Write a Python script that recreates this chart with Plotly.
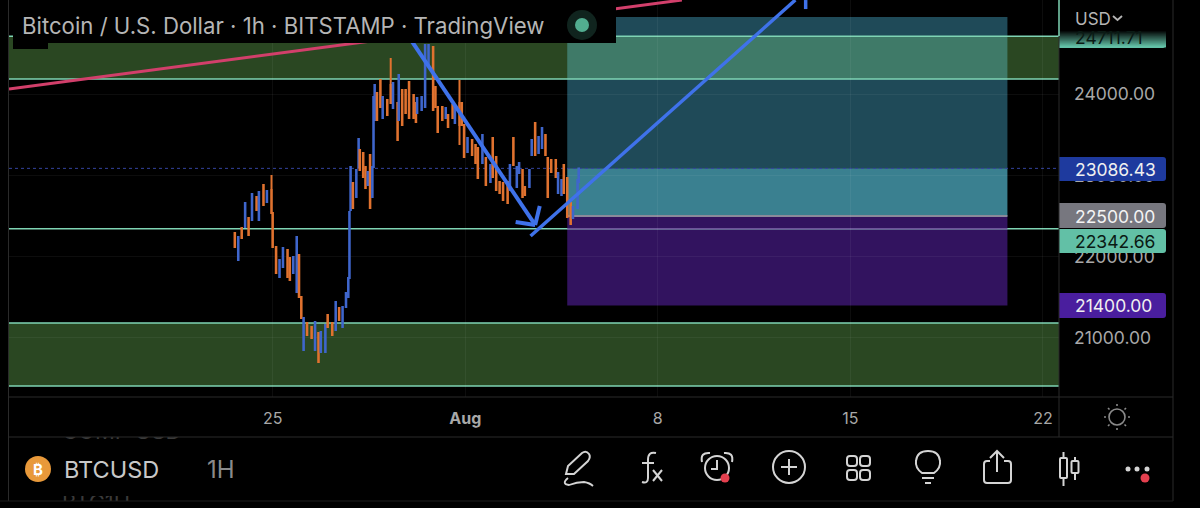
import pandas as pd
import plotly.graph_objects as go

# hours counted from 1 Aug 00:00, prices
candle_hours = [-201,-198,-195,-192,-189,-186,-182,-180,-176,-173,
                -169,-168,-165,-162,-159,-155,-153,-150,-147,-145,
                -143,-141,-138,-134,-131,-128,-126,-122,-120,-116,
                -113,-110,-107,-104,-102,-101,-100,-98,-95,-93,
                -92,-89,-87,-85,-83,-81,-80,-79,-77,-74,
                -72,-68,-65,-63,-59,-58,-55,-52,-49,-45,
                -43,-42,-38,-35,-32,-28,-26,-24,-20,-17,
                -15,-11,-9,-5,-3,-1,2,6,9,11,
                15,18,22,24,27,30,33,37,39,42,
                45,47,50,52,56,58,61,64,67,70,
                72,75,79,81,84,86,89,92,94,98,
                99]
opens = [22291,21959,22353,22365,22476,22451,22734,22451,22882,22672,
         22820,22537,22119,21750,21873,22082,21984,21799,21566,22021,
         21504,20852,21184,21135,20852,21061,20827,20827,21283,21184,
         21098,21369,21135,21381,21504,21738,22574,22906,22734,23103,
         23312,23275,23103,22882,23251,22734,23103,23681,24013,24173,
         23706,23927,24112,23829,23890,23681,24050,24050,24148,23989,
         23890,23767,23804,23841,24358,24579,24087,23841,23841,23706,
         23743,23866,23644,23890,23890,23620,23288,23435,23374,23337,
         23152,23214,22918,23460,23226,22918,22906,22918,22820,23460,
         22857,23029,23066,22857,22857,23251,23644,23275,23337,23497,
         23214,23189,23189,22783,22759,23128,22968,22660,22476,22598,
         22918]
highs = [22291,22242,22353,22660,22476,22771,22734,22795,22882,22808,
         23005,22537,22119,21959,22107,22082,21984,21996,22242,22021,
         21504,21246,21184,21135,21196,21061,21074,21160,21283,21184,
         21442,21369,21381,21553,21738,22549,23103,22906,23066,23447,
         23312,23275,23103,23041,23251,23103,23964,24112,24013,24173,
         23964,23927,24444,24136,23890,24235,24050,24050,24148,23989,
         23890,23952,23964,24604,24604,24579,24087,23841,23841,23829,
         23743,23866,23841,24173,23890,23620,23460,23435,23374,23337,
         23497,23214,23128,23460,23226,22918,22906,22918,23128,23460,
         23103,23152,23066,22857,23066,23435,23644,23472,23583,23497,
         23214,23189,23189,23029,22943,23128,22968,22660,22611,22943,
         23086]
lows = [22119,21959,22230,22365,22267,22451,22574,22451,22635,22672,
        22537,22119,21799,21750,21873,21750,21713,21799,21566,21504,
        21246,20852,21037,21000,20852,20704,20827,20827,21135,21037,
        21098,21221,21135,21381,21504,21738,22574,22598,22734,23103,
        23066,22980,22845,22882,22598,22734,23103,23681,23681,23841,
        23706,23743,23890,23829,23435,23681,23620,23767,23706,23706,
        23657,23767,23804,23841,24358,23804,23841,23534,23681,23706,
        23595,23706,23644,23374,23620,23226,23288,23251,23152,22968,
        23152,22882,22918,22980,22820,22783,22697,22660,22820,23128,
        22857,23029,22734,22759,22857,23251,23251,23275,23337,23251,
        22734,23041,22980,22783,22759,22783,22488,22402,22476,22598,
        22918]
closes = [22119,22242,22230,22660,22267,22771,22574,22795,22635,22808,
          22537,22119,21799,21959,22107,21750,21713,21996,22242,21504,
          21246,21246,21037,21000,21196,20704,21074,21160,21135,21037,
          21442,21221,21381,21553,21738,22549,23103,22598,23066,23447,
          23066,22980,22845,23041,22598,23103,23964,24112,23681,23841,
          23964,23743,23890,24136,23435,24235,23620,23767,23706,23706,
          23657,23952,23964,24604,24604,23804,23841,23534,23681,23829,
          23595,23706,23841,23620,23620,23226,23460,23251,23152,22968,
          23497,22882,23128,22980,22820,22783,22697,22660,23128,23128,
          23103,23152,22734,22759,23066,23435,23251,23472,23583,23251,
          22734,23041,22980,23029,22943,22783,22488,22402,22611,22943,
          23086]

price_ticks = [21000, 22000, 23000, 24000]
date_ticks = ['2022-07-25', '2022-08-01', '2022-08-08', '2022-08-15', '2022-08-22']
date_labels = ['25', '<b>Aug</b>', '8', '15', '22']

# drawn levels
upper_zone = [24185, 24711.71]
lower_zone = [20410, 21185]
support = 22342.66
last_price = 23086.43
entry = 22500
stop = 21400
target = 24948
position_hours = [89, 473]
view_hours = [-398, 518]
view_prices = [20274, 25157.4]

red_line_hours = [-398, 189]
red_line_prices = [24063, 25157]
down_hours = [-49, 61]
down_prices = [24702, 22390]
head_hours = [44, 61, 65]
head_prices = [22427, 22390, 22623]
up_hours = [57, 288]
up_prices = [22254, 25157]
tip_hours = [297, 297]
tip_prices = [25157, 25046]

BLACK = '#000000'
MINT = '#7fd4b4'
GREEN = '#2a4722'
BLUE = '#3f72ea'
FRAME = '#2a2a2a'
GRID = 'rgba(255,255,255,0.05)'
FONT = 'Inter'


def at(hour):
    return pd.Timestamp('2022-08-01') + pd.Timedelta(hours=hour)


shapes = []


def price_rect(h0, h1, p0, p1, color, layer='below'):
    shapes.append(dict(type='rect', xref='x', yref='y', x0=at(h0), x1=at(h1), y0=p0, y1=p1,
                       fillcolor=color, line_width=0, layer=layer))


def price_line(hours, prices, color, width, dash='solid', layer='above'):
    for i in range(len(hours) - 1):
        shapes.append(dict(type='line', xref='x', yref='y', x0=at(hours[i]), x1=at(hours[i + 1]),
                           y0=prices[i], y1=prices[i + 1], layer=layer,
                           line=dict(color=color, width=width, dash=dash)))


# everything below is page furniture, in page pixels on the overlay axes
def px_rect(x0, y0, x1, y1, color):
    shapes.append(dict(type='rect', xref='x2', yref='y2', x0=x0, x1=x1, y0=y0, y1=y1,
                       fillcolor=color, line_width=0, layer='above'))


def px_line(x0, y0, x1, y1, color=FRAME, width=1):
    shapes.append(dict(type='line', xref='x2', yref='y2', x0=x0, x1=x1, y0=y0, y1=y1,
                       line=dict(color=color, width=width), layer='above'))


def px_path(path, color='#d4d4d4', width=2, fill=None):
    shapes.append(dict(type='path', xref='x2', yref='y2', path=path, layer='above',
                       line=dict(color=color, width=width), fillcolor=fill or 'rgba(0,0,0,0)'))


def px_circle(cx, cy, r, color='#d4d4d4', width=2, fill=None):
    shapes.append(dict(type='circle', xref='x2', yref='y2', x0=cx - r, x1=cx + r, y0=cy - r, y1=cy + r,
                       layer='above', line=dict(color=color, width=width),
                       fillcolor=fill or 'rgba(0,0,0,0)'))


def round_rect(x0, y0, x1, y1, r):
    return (f'M {x0 + r} {y0} L {x1 - r} {y0} Q {x1} {y0} {x1} {y0 + r} L {x1} {y1 - r} '
            f'Q {x1} {y1} {x1 - r} {y1} L {x0 + r} {y1} Q {x0} {y1} {x0} {y1 - r} '
            f'L {x0} {y0 + r} Q {x0} {y0} {x0 + r} {y0} Z')


def price_tag(y0, y1, color):
    # square on the axis side, rounded on the outer side
    px_path(f'M 1059 {y0} L 1163 {y0} Q 1166 {y0} 1166 {y0 + 3} L 1166 {y1 - 3} '
            f'Q 1166 {y1} 1163 {y1} L 1059 {y1} Z', color=color, width=0, fill=color)


# green zones and the position tool, under the candles
price_rect(view_hours[0], view_hours[1], upper_zone[0], upper_zone[1], GREEN)
price_rect(view_hours[0], view_hours[1], lower_zone[0], lower_zone[1], GREEN)
price_rect(position_hours[0], position_hours[1], upper_zone[1], target, '#1f4a58')
price_rect(position_hours[0], position_hours[1], upper_zone[0], upper_zone[1], '#3f7a68')
price_rect(position_hours[0], position_hours[1], last_price, upper_zone[0], '#1f4a58')
price_rect(position_hours[0], position_hours[1], entry, last_price, '#3a8090')
price_rect(position_hours[0], position_hours[1], stop, entry, '#32135f')

for level in [upper_zone[0], upper_zone[1], lower_zone[0], lower_zone[1], support]:
    price_line(view_hours, [level, level], MINT, 1.5, layer='below')
price_line(position_hours, [support, support], '#6d559a', 1.5, layer='below')
price_line(position_hours, [entry, entry], '#8a8a9a', 2, layer='below')
price_line(view_hours, [last_price, last_price], '#33439e', 1, dash='dot', layer='below')

# drawings on top of the candles
price_line(red_line_hours, red_line_prices, '#d23f6b', 3)
price_line(down_hours, down_prices, BLUE, 4)
price_line(head_hours, head_prices, BLUE, 4)
price_line(up_hours, up_prices, BLUE, 3.5)
price_line(tip_hours, tip_prices, BLUE, 3.5)

# title box
px_rect(13, 0, 616, 43, BLACK)
px_rect(13, 43, 48, 49, BLACK)
px_circle(582, 25, 15, color='#10241e', width=0, fill='#10241e')
px_circle(582, 25, 7, color='#52ad90', width=0, fill='#52ad90')

# masks that leave only slivers of the rows scrolled behind the toolbar
px_rect(58, 422, 195, 437, BLACK)
px_rect(58, 442, 195, 496, BLACK)
px_rect(58, 501, 195, 508, BLACK)

# right axis tags
for i in range(16):
    alpha = (i + 1) / 16
    px_rect(1059, 31 + i, 1166, 32 + i, f'rgba(98,192,166,{alpha:.2f})')
price_tag(46, 48, '#62c0a6')
price_tag(157, 181, '#1e3a9e')
price_tag(203, 228, '#77777f')
price_tag(229, 253, '#62c0a6')
price_tag(293, 318, '#4a1e9e')

# frame
px_line(8.5, 0, 8.5, 501)
px_line(1059, 36, 1059, 437)
px_line(1059, 0, 1059, 36, color=MINT, width=1.5)
px_line(1173, 0, 1173, 501)
px_line(9, 397, 1173, 397)
px_line(9, 437, 1173, 437)
px_line(0, 501, 1173, 501, color='#1c1c1c')

# USD chevron and sun
px_path('M 1113 16 L 1117.5 20 L 1122 16', color='#b5b5b5', width=1.8)
px_circle(1117, 417, 8, color='#8a8a8a', width=1.6)
px_line(1117, 404, 1117, 406, color='#8a8a8a', width=1.6)
px_line(1117, 428, 1117, 430, color='#8a8a8a', width=1.6)
px_line(1104, 417, 1106, 417, color='#8a8a8a', width=1.6)
px_line(1128, 417, 1130, 417, color='#8a8a8a', width=1.6)
px_line(1108, 408, 1109.5, 409.5, color='#8a8a8a', width=1.6)
px_line(1124.5, 424.5, 1126, 426, color='#8a8a8a', width=1.6)
px_line(1126, 408, 1124.5, 409.5, color='#8a8a8a', width=1.6)
px_line(1109.5, 424.5, 1108, 426, color='#8a8a8a', width=1.6)

# toolbar
px_circle(38, 469, 13, color='#e8993a', width=0, fill='#e8993a')
px_path('M 566 474 L 568 466 L 582 453 Q 586 450 589 454 Q 591 457 588 461 L 574 474 Z')
px_path('M 568 478 Q 561 484 569 485 Q 577 482 584 482 Q 590 483 593 486', width=1.8)
px_path('M 656 453 Q 648 451 648 460 L 648 478 Q 648 484 642 482')
px_path('M 642 463 L 654 463')
px_path('M 653 470 L 662 481 M 662 470 L 653 481')
px_circle(717, 468, 12)
px_path('M 717 460 L 717 469 L 711 469')
px_path('M 702 462 Q 700 452 710 453')
px_path('M 724 453 Q 734 452 732 462')
px_circle(725, 478, 4.5, color='#e5404f', width=0, fill='#e5404f')
px_circle(789, 467, 16)
px_path('M 781 467 L 797 467 M 789 459 L 789 475')
px_path(round_rect(847, 456, 857, 466, 3))
px_path(round_rect(860, 456, 870, 466, 3))
px_path(round_rect(847, 470, 857, 480, 3))
px_path(round_rect(860, 470, 870, 480, 3))
px_path('M 922 473 Q 915 468 916 461 Q 917 451 928 451 Q 939 451 940 461 Q 941 468 934 473 Z')
px_path('M 922 478 L 934 478 M 925 483 L 931 483')
px_path('M 990 461 L 987 461 Q 984 461 984 464 L 984 480 Q 984 483 987 483 L 1008 483 '
        'Q 1011 483 1011 480 L 1011 464 Q 1011 461 1008 461 L 1004 461')
px_path('M 997 472 L 997 451 M 990 458 L 997 451 L 1004 458')
px_path('M 1063.5 452 L 1063.5 458 M 1063.5 478 L 1063.5 486')
px_path(round_rect(1060, 458, 1067, 478, 1))
px_path('M 1075 457 L 1075 461 M 1075 473 L 1075 480')
px_path(round_rect(1071.5, 461, 1078.5, 473, 1))
px_circle(1128, 469, 2.5, width=0, fill='#d4d4d4')
px_circle(1137, 469, 2.5, width=0, fill='#d4d4d4')
px_circle(1147, 469, 2.5, width=0, fill='#d4d4d4')
px_circle(1145, 478, 4.5, color='#e5404f', width=0, fill='#e5404f')


def label(x, y, text, color='#b5b5b5', size=17.5, anchor='left'):
    return dict(xref='x2', yref='y2', x=x, y=y, text=text, showarrow=False, xanchor=anchor,
                yanchor='middle', font=dict(family=FONT, size=size, color=color))


annotations = [
    label(20, 25, 'Bitcoin / U.S. Dollar · 1h · BITSTAMP · TradingView', size=22.2),
    label(1073, 19, 'USD', size=17),
    label(1073, 37, '24711.71', color='#0a1a14'),
    label(1073, 169, f'{last_price:.2f}', color='#f0f0f0'),
    label(1073, 216, f'{entry:.2f}', color='#f4f4f4'),
    label(1073, 241, f'{support:.2f}', color='#0a1a14'),
    label(1073, 305, f'{stop:.2f}', color='#f0f0f0'),
    label(38, 469, '<b>₿</b>', color='#ffffff', size=15, anchor='center'),
    label(62, 469, 'BTCUSD', color='#c8c8c8', size=23.5),
    label(205, 469, '1H', color='#8a8a8a', size=24),
]

fig = go.Figure()
fig.add_trace(go.Candlestick(
    x=[at(h) for h in candle_hours],
    open=opens, high=highs, low=lows, close=closes,
    increasing=dict(line=dict(color='#3f66cc', width=2), fillcolor='#3f66cc'),
    decreasing=dict(line=dict(color='#e0722f', width=2), fillcolor='#e0722f'),
    whiskerwidth=0, showlegend=False, hoverinfo='skip',
))
# rows scrolled behind the toolbar, masked down to slivers above
fig.add_trace(go.Scatter(
    x=[62, 62], y=[433.5, 504.5], xaxis='x2', yaxis='y2', mode='text',
    text=['COMP USD', 'BTC1H'], textposition='middle right',
    textfont=dict(family=FONT, size=22, color='#3a3a3a'),
    showlegend=False, hoverinfo='skip',
))

fig.update_layout(
    width=1200, height=508, autosize=False,
    margin=dict(l=0, r=0, t=0, b=0),
    paper_bgcolor=BLACK, plot_bgcolor='rgba(0,0,0,0)',
    showlegend=False, shapes=shapes, annotations=annotations,
    font=dict(family=FONT),
    xaxis=dict(
        domain=[9 / 1200, 1059 / 1200],
        type='date', range=[at(view_hours[0]), at(view_hours[1])], rangeslider_visible=False,
        tickmode='array', tickvals=date_ticks, ticktext=date_labels,
        tickfont=dict(family=FONT, size=16, color='#a8a8a8'), ticklabelstandoff=10,
        showgrid=True, gridcolor=GRID, zeroline=False, showline=False, ticks='',
    ),
    yaxis=dict(
        domain=[111 / 508, 1],
        side='right', range=view_prices, tickmode='array', tickvals=price_ticks,
        ticktext=[f'{p:.2f}' for p in price_ticks],
        tickfont=dict(family=FONT, size=17.5, color='#a8a8a8'), ticklabelstandoff=14,
        showgrid=True, gridcolor=GRID, zeroline=False, showline=False, ticks='',
    ),
    xaxis2=dict(domain=[0, 1], range=[0, 1200], anchor='y2', visible=False, fixedrange=True),
    yaxis2=dict(domain=[0, 1], range=[508, 0], anchor='x2', visible=False, fixedrange=True),
)

fig.write_html("out.html", config=dict(displayModeBar=False),
               post_script="document.body.style.margin='0';document.body.style.background='#000';")
